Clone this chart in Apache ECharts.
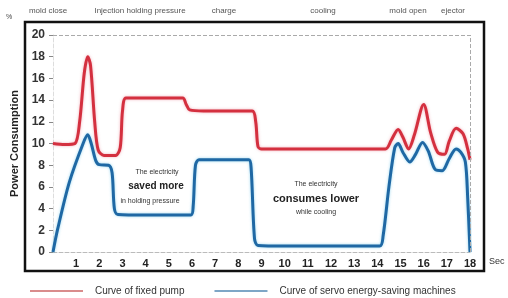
<!DOCTYPE html>
<html><head><meta charset="utf-8">
<script src="https://cdn.jsdelivr.net/npm/echarts@6/dist/echarts.min.js"></script>
<style>html,body{margin:0;padding:0;background:#fff}#c{width:508px;height:298px}</style>
</head><body><div id="c"></div>
<script>
const xTicks = [1,2,3,4,5,6,7,8,9,10,11,12,13,14,15,16,17,18];
const yTicks = [0,2,4,6,8,10,12,14,16,18,20];
const fixedPump = [[0,10],[0.5,9.9],[0.95,10],[1.15,12],[1.35,16.5],[1.5,18],[1.62,17.2],[1.8,12],[1.95,9.4],[2.2,8.9],[2.7,8.9],[2.9,9.6],[3.0,13],[3.15,14.2],[4,14.2],[5.6,14.2],[5.75,13.6],[5.9,13.1],[6.5,13],[8.6,13],[8.75,12],[8.85,9.7],[9,9.5],[12,9.5],[14.35,9.5],[14.6,10.3],[14.9,11.3],[15.1,10.6],[15.35,9.5],[15.6,10.8],[16.0,13.6],[16.3,11],[16.6,9.2],[16.9,9.0],[17.1,10.2],[17.4,11.4],[17.7,10.9],[17.9,9.5],[18,8.5]];
const servo = [[0,0],[0.2,2.1],[0.7,6.4],[1.3,10],[1.5,10.8],[1.65,10],[1.85,8.4],[2.0,8.05],[2.4,8],[2.55,7.3],[2.65,4],[2.8,3.45],[4,3.4],[5.95,3.4],[6.05,4.2],[6.15,8],[6.3,8.5],[7,8.5],[8.45,8.5],[8.55,7.8],[8.7,1.2],[8.85,0.6],[10,0.55],[14.1,0.55],[14.25,1.5],[14.5,6],[14.75,9.6],[14.9,10],[15.1,9.2],[15.4,8.3],[15.65,9],[15.95,10.1],[16.2,9.3],[16.5,7.6],[16.8,7.5],[17.1,8.6],[17.4,9.5],[17.6,9.2],[17.8,8.3],[17.9,5],[18,0]];
const stages = [["mold close",48],["Injection holding pressure",140],["charge",224],["cooling",323],["mold open",408],["ejector",453]];

const chart = echarts.init(document.getElementById('c'));
const ff = '"Liberation Sans", Arial, sans-serif';
const graphics = [
  {type:'rect', shape:{x:25,y:22,width:459,height:249}, style:{fill:'none', stroke:'#111', lineWidth:2.5}, z:10},
  {type:'text', left:6, top:14, style:{text:'%', fontSize:7, fill:'#444', fontFamily:ff}},
  {type:'text', left:489, top:257, style:{text:'Sec', fontSize:9, fill:'#333', fontFamily:ff}},
  {type:'text', x:157, y:172, style:{text:'The electricity', fontSize:7, fill:'#333', align:'center', verticalAlign:'middle', fontFamily:ff}},
  {type:'text', x:156, y:186, style:{text:'saved more', fontSize:10, fontWeight:'bold', fill:'#222', align:'center', verticalAlign:'middle', fontFamily:ff}},
  {type:'text', x:150, y:201, style:{text:'in holding pressure', fontSize:7, fill:'#333', align:'center', verticalAlign:'middle', fontFamily:ff}},
  {type:'text', x:316, y:184, style:{text:'The electricity', fontSize:7, fill:'#333', align:'center', verticalAlign:'middle', fontFamily:ff}},
  {type:'text', x:316, y:199, style:{text:'consumes lower', fontSize:11, fontWeight:'bold', fill:'#222', align:'center', verticalAlign:'middle', fontFamily:ff}},
  {type:'text', x:316, y:212, style:{text:'while cooling', fontSize:7, fill:'#333', align:'center', verticalAlign:'middle', fontFamily:ff}}
];
stages.forEach(s => graphics.push({type:'text', x:s[1], y:11, style:{text:s[0], fontSize:8, fill:'#555', align:'center', verticalAlign:'middle', fontFamily:ff}}));

chart.setOption({
  animation:false,
  backgroundColor:'#fff',
  grid:{left:53, right:38, top:35, bottom:46},
  legend:{
    left:25, top:281, icon:'rect', itemWidth:53, itemHeight:2, itemGap:30,
    textStyle:{fontSize:10, color:'#333', fontFamily:ff, padding:[0,0,0,7]},
    data:[{name:'Curve of fixed pump', itemStyle:{color:'#d98c8c'}},{name:'Curve of servo energy-saving machines', itemStyle:{color:'#7ea6c6'}}]
  },
  xAxis:{
    type:'value', min:0, max:18, interval:1,
    axisLine:{show:true, lineStyle:{color:'#bbb', type:'dashed', width:1}},
    axisTick:{show:false},
    splitLine:{show:false},
    axisLabel:{fontSize:11, fontWeight:'bold', color:'#222', fontFamily:ff, margin:6,
      formatter:v => xTicks.includes(v) ? String(v) : ''}
  },
  yAxis:{
    type:'value', min:0, max:20, interval:2,
    name:'Power Consumption', nameLocation:'middle', nameGap:33, nameRotate:90,
    nameTextStyle:{fontSize:11, fontWeight:'bold', color:'#222', fontFamily:ff},
    axisLine:{show:true, lineStyle:{color:'#ddd', type:'dashed', width:1}},
    axisTick:{show:true, inside:false, length:4, lineStyle:{color:'#888'}},
    splitLine:{show:false},
    axisLabel:{fontSize:12, fontWeight:'bold', color:'#333', fontFamily:ff, margin:8,
      formatter:v => yTicks.includes(v) ? String(v) : ''}
  },
  graphic: graphics,
  series:[
    {name:'Curve of fixed pump', type:'line', data:fixedPump, smooth:0.3, showSymbol:false, symbol:'none',
     lineStyle:{color:'#d4303f', width:3, shadowColor:'rgba(230,100,120,0.5)', shadowBlur:3}, z:3,
     markLine:{silent:true, symbol:'none', label:{show:false},
       lineStyle:{color:'#aaa', type:'dashed', width:1},
       data:[{yAxis:20},{xAxis:18}]}},
    {name:'Curve of servo energy-saving machines', type:'line', data:servo, smooth:0.3, showSymbol:false, symbol:'none',
     lineStyle:{color:'#1f68a4', width:3, shadowColor:'rgba(90,190,230,0.6)', shadowBlur:3}, z:4}
  ]
});
</script></body></html>
